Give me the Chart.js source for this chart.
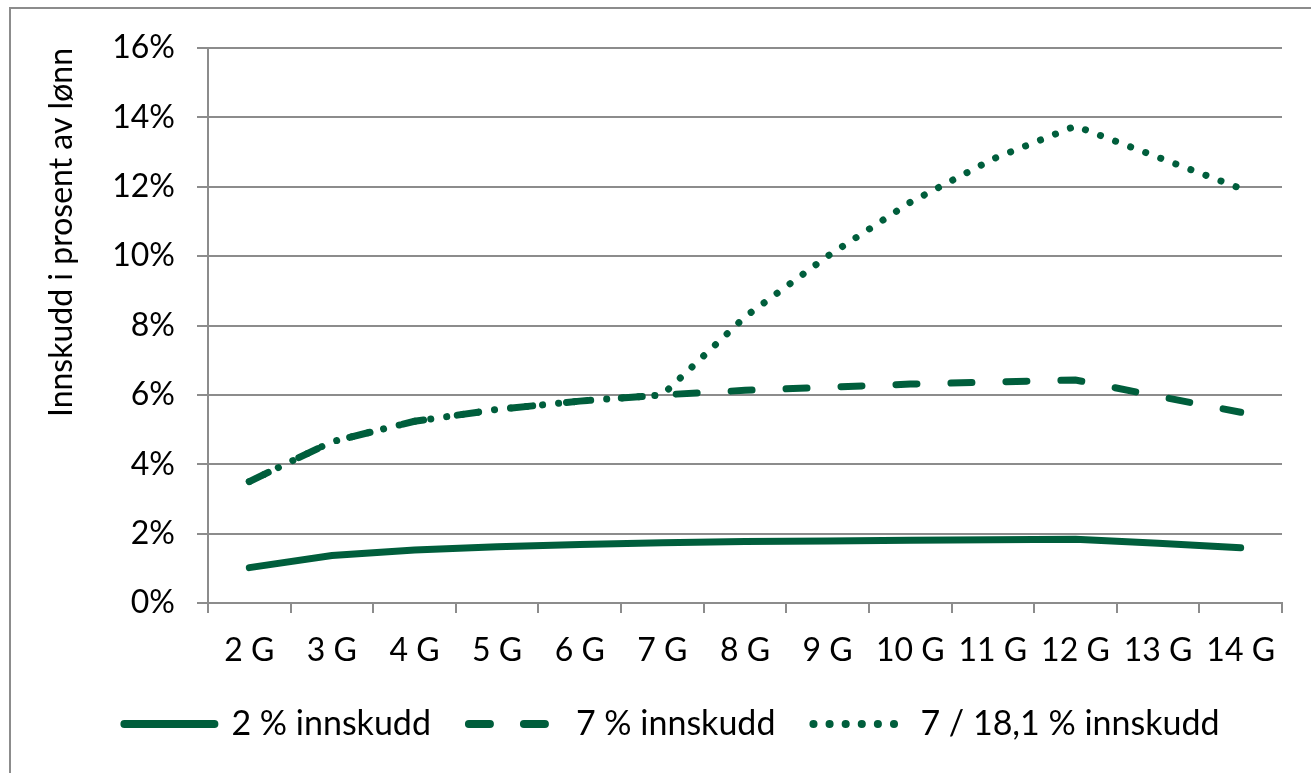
<!DOCTYPE html>
<html>
<head>
<meta charset="utf-8">
<script src="https://cdn.jsdelivr.net/npm/chart.js@4.4.1/dist/chart.umd.min.js"></script>
<style>
  html, body { margin: 0; padding: 0; background: #fff; overflow: hidden; }
  #wrap { position: relative; width: 1311px; height: 773px; }
  #frame { position: absolute; left: 9px; top: 7px; width: 1400px; height: 900px; border: 2px solid #8c8c8c; }
  #chart { position: absolute; left: 0; top: 0; }
</style>
</head>
<body>
<div id="wrap">
  <div id="frame"></div>
  <canvas id="chart" width="1311" height="773"></canvas>
</div>
<script>
// categories (x) and series values in percent
const categories = ['2 G', '3 G', '4 G', '5 G', '6 G', '7 G', '8 G', '9 G', '10 G', '11 G', '12 G', '13 G', '14 G'];
const innskudd2 = [1.02, 1.37, 1.53, 1.62, 1.69, 1.74, 1.77, 1.79, 1.81, 1.82, 1.84, 1.72, 1.59];
const innskudd7 = [3.5, 4.65, 5.24, 5.58, 5.82, 6.0, 6.13, 6.22, 6.31, 6.37, 6.43, 5.96, 5.5];
const innskudd7_181 = [3.5, 4.65, 5.24, 5.58, 5.82, 6.0, 8.25, 10.0, 11.55, 12.8, 13.75, 12.85, 11.95];
const seriesNames = ['2 % innskudd', '7 % innskudd', '7 / 18,1 % innskudd'];
const yMin = 0, yMax = 16, yStep = 2;

const green = '#005e3c';
const grey = '#8c8c8c';
const font = 'Lato';
const fsize = 32;

var ctx = document.getElementById('chart');

var myChart = new Chart(ctx, {
  type: 'line',
  data: {
    labels: categories,
    datasets: [
      {
        label: seriesNames[0],
        data: innskudd2,
        borderColor: green,
        backgroundColor: green,
        borderWidth: 7,
        borderCapStyle: 'round',
        pointRadius: 0,
        tension: 0
      },
      {
        label: seriesNames[1],
        data: innskudd7,
        borderColor: green,
        backgroundColor: green,
        borderWidth: 7,
        borderDash: [21, 34],
        borderCapStyle: 'round',
        pointRadius: 0,
        tension: 0
      },
      {
        label: seriesNames[2],
        data: innskudd7_181,
        borderColor: green,
        backgroundColor: green,
        borderWidth: 7,
        borderDash: [0.1, 16],
        borderCapStyle: 'round',
        pointRadius: 0,
        tension: 0
      }
    ]
  },
  options: {
    responsive: false,
    animation: false,
    devicePixelRatio: 1,
    layout: { padding: { left: 62, top: 48, right: 29, bottom: 22 } },
    plugins: {
      tooltip: { enabled: false },
      legend: {
        position: 'bottom',
        labels: {
          usePointStyle: true,
          pointStyle: 'line',
          pointStyleWidth: 90,
          boxHeight: 8,
          padding: 38,
          color: '#000',
          font: { family: font, size: 34 },
          generateLabels: function (chart) {
            var items = Chart.defaults.plugins.legend.labels.generateLabels(chart);
            items.forEach(function (item) {
              var ds = chart.data.datasets[item.datasetIndex];
              item.lineDash = ds.borderDash || [];
              item.lineCap = 'round';
              item.lineWidth = 8;
            });
            return items;
          }
        }
      }
    },
    scales: {
      x: {
        offset: true,
        afterFit: function (scale) { scale.height = 66; },
        border: { color: grey, width: 2 },
        grid: { drawOnChartArea: false, drawTicks: true, tickLength: 10, color: grey, lineWidth: 2, offset: true },
        ticks: { color: '#000', padding: 18, maxRotation: 0, autoSkip: false, font: { family: font, size: fsize } }
      },
      y: {
        min: yMin,
        max: yMax,
        afterFit: function (scale) { scale.width = 146; },
        border: { color: grey, width: 2 },
        grid: { color: grey, lineWidth: 2, tickLength: 11 },
        ticks: {
          stepSize: yStep,
          color: '#000',
          padding: 22,
          font: { family: font, size: fsize },
          callback: function (v) { return v + '%'; }
        },
        title: {
          display: true,
          text: 'Innskudd i prosent av lønn',
          align: 'end',
          color: '#000',
          padding: { top: -20, bottom: 0 },
          font: { family: font, size: fsize }
        }
      }
    }
  }
});
</script>
</body>
</html>
